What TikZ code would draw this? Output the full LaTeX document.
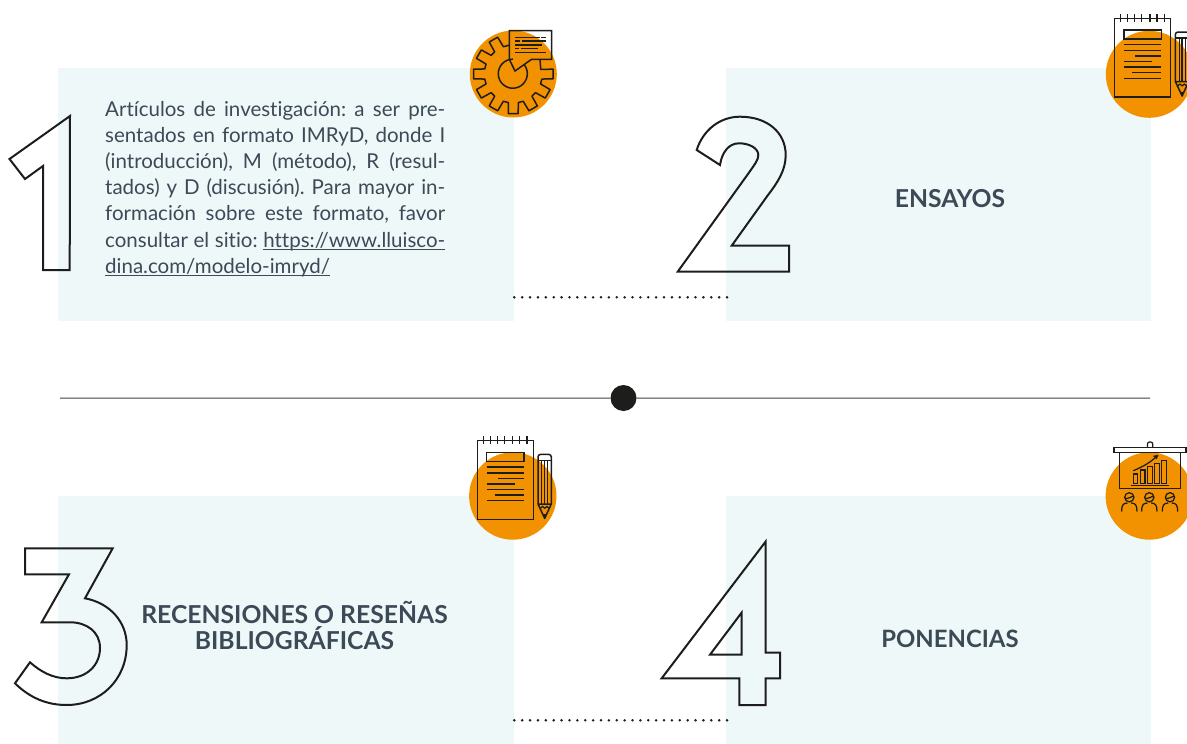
\documentclass[tikz,border=0pt]{standalone}
\usepackage{fontspec}
\setmainfont[Ligatures=NoCommon]{Lato}
\definecolor{panelc}{HTML}{EEF8F8}
\definecolor{orangec}{HTML}{F39200}
\definecolor{inkc}{HTML}{1D1D1B}
\definecolor{textc}{HTML}{3C4A57}
\newlength\ulw
\newcommand\ulin[1]{\settowidth\ulw{#1}\rlap{\rule[-2.8pt]{\ulw}{1pt}}#1}
\newcommand\jline[1]{\hbox to 340pt{#1}}
\tikzset{
  x=1pt,y=-1pt,
  panel/.style={fill=panelc,draw=none},
  badge/.style={fill=orangec,draw=none},
  digit/.style={draw=inkc,line width=2pt,line join=miter},
  icon/.style={draw=inkc,line width=1.5pt},
  thinicon/.style={draw=inkc,line width=1.25pt},
  dotline/.style={draw=inkc,line width=2.8pt,line cap=round,dash pattern=on 0pt off 7.88pt},
  heading/.style={text=textc,font=\bfseries\fontsize{24.7}{25.6}\selectfont,align=center,inner sep=0pt},
  body/.style={text=textc,font=\frenchspacing\fontsize{20.5}{26.2}\selectfont,align=left,inner sep=0pt,anchor=north west},
  notepadicon/.pic={
    \draw[icon] (0,0) rectangle (56,78.7);
    \foreach \tx in {6,13,20,27,35.3,42.3,49.7}{\draw[thinicon] (\tx,-4.3) -- (\tx,3.7);}
    \draw[icon] (9.3,11.7) rectangle (46.7,20.7);
    \draw[icon] (9.7,26.3) -- (46.3,26.3);
    \draw[icon] (9.7,32.3) -- (46.3,32.3);
    \draw[icon] (20.7,37.7) -- (46.3,37.7);
    \draw[icon] (9.7,43.3) -- (37.3,43.3);
    \draw[icon] (9.7,48.7) -- (46.3,48.7);
    \draw[icon] (17.3,54.3) -- (46.3,54.3);
    \draw[icon] (9.7,60) -- (46.3,60);
    \draw[icon,rounded corners=2.5pt] (60.7,63.3) -- (60.7,13.7) -- (74,13.7) -- (74,63.3);
    \draw[thinicon] (60.7,19.7) -- (74,19.7);
    \draw[thinicon] (64.5,19.7) -- (64.5,63.3);
    \draw[thinicon] (67.4,19.7) -- (67.4,63.3);
    \draw[thinicon] (70.5,19.7) -- (70.5,63.3);
    \draw[icon,line join=round] (60.7,63.3) -- (67.4,77.7) -- (74,63.3) -- cycle;
    \draw[thinicon] (63,67.5) -- (65.2,65.8) -- (67.4,67.5) -- (69.6,65.8) -- (71.8,67.5);
    \fill[inkc] (65.6,73.5) -- (67.4,77.7) -- (69.2,73.5) -- cycle;
  },
  viewerpic/.pic={
    \draw[thinicon] (-1.8,5.7) .. controls (-6.2,5.7) and (-7.7,8) .. (-7.7,14.2);
    \draw[thinicon] (1.8,5.7) .. controls (6.2,5.7) and (7.7,8) .. (7.7,14.2);
    \draw[thinicon] (0,0) circle (4.6);
    \draw[thinicon] (-4.4,1) .. controls (-2,2.2) and (2,-1) .. (4.3,-1);
  }
}
\begin{document}
\begin{tikzpicture}
\useasboundingbox (0,0) rectangle (1187,744);
% panels
\fill[panel] (58,68) rectangle (514,321);
\fill[panel] (726,68) rectangle (1151,321);
\fill[panel] (58,496) rectangle (514,744);
\fill[panel] (726,496) rectangle (1151,744);
% badges
\fill[badge] (513.3,74) circle (43.5);
\fill[badge] (1149.3,74.3) circle (43.5);
\fill[badge] (512.8,496) circle (43.7);
\fill[badge] (1149.3,496) circle (43.7);
% digits
\draw[digit] (70,116) -- (9.5,159) -- (25,179) -- (43,166) -- (43,270) -- (69.7,270) -- cycle;
\draw[digit] (696.7,150) .. controls (703,130) and (720,116.7) .. (740,116.7)
  .. controls (768,116.7) and (785.7,133) .. (785.7,155)
  .. controls (785.7,170) and (778,182) .. (768,195)
  -- (731.7,245.7) -- (789,245.7) -- (789,271.7) -- (677.7,271.7) -- (748,174)
  .. controls (755,164) and (758.3,160) .. (758.3,155)
  .. controls (758.3,148) and (749,143.3) .. (739,143.3)
  .. controls (729,143.3) and (722,152) .. (720,165) -- cycle;
\draw[digit] (25,548.3) -- (112.7,548.3) -- (85,598.3)
  .. controls (110,603) and (126.7,622) .. (126.7,645)
  .. controls (126.7,680) and (100,705) .. (66.7,705)
  .. controls (47,705) and (30,698) .. (15,683.3)
  -- (30,662.3) .. controls (41,672) and (53,678.3) .. (66.7,678.3)
  .. controls (87,678.3) and (100,665) .. (100,648)
  .. controls (100,632) and (87,622.3) .. (70,622.3)
  -- (41.7,622.3) -- (69,574.3) -- (25,574.3) -- cycle;
\draw[digit] (765.7,541.5) -- (765.7,652.7) -- (780,652.7) -- (780,678.3) -- (765.7,678.3)
  -- (765.7,705) -- (739.3,705) -- (739.3,678.3) -- (661.7,678.3) -- cycle;
\draw[digit] (741.7,612.5) -- (741.7,654.7) -- (710,654.7) -- cycle;
% divider
\coordinate (divl) at (60,398.2);
\coordinate (divr) at (1150,398.2);
\node[circle,fill=inkc,draw=none,minimum size=26pt,inner sep=0pt] (hub) at (623.5,398) {};
\draw[draw=inkc!85,line width=1pt] (divl) -- (hub) -- (divr);
% dotted
\coordinate (dota) at (514.3,297.3);
\coordinate (dotb) at (727.4,297.3);
\coordinate (dotc) at (514.3,720.3);
\coordinate (dotd) at (727.4,720.3);
\draw[dotline] (dota) -- (dotb);
\draw[dotline] (dotc) -- (dotd);
% texts
\node[body] (bodytext) at (105,100.8) {%
\jline{Artículos de investigación: a ser pre-}\\
\jline{sentados en formato IMRyD, donde I}\\
\jline{(introducción), M (método), R (resul-}\\
\jline{tados) y D (discusión). Para mayor in-}\\
\jline{formación sobre este formato, favor}\\
\jline{consultar el sitio: \ulin{https://www.lluisco-}}\\
\ulin{dina.com/modelo-imryd/}};
\node[heading] (ensayos) at (950,199) {ENSAYOS};
\node[heading] (recens) at (294.5,625.5) {RECENSIONES O RESEÑAS\\BIBLIOGRÁFICAS};
\node[heading,font=\bfseries\fontsize{23.9}{25.6}\selectfont] (ponen) at (950,638.5) {PONENCIAS};
% gear icon
\begin{scope}[shift={(513.3,74)}]
  \draw[icon,line join=round]
    (26.7,-14.7) -- (27.5,-4.5)
    \foreach \a in {0,30,60,90,120,150,180,210,240}{
      -- (\a-7:40) -- (\a+7:40) -- (\a+10:29) -- (\a+20:29)
    } -- (-4,-29);
  \draw[icon] plot[domain=270:-36,samples=50] ({-0.5+14.5*cos(\x)},{-0.3+14.5*sin(\x)});
  \draw[icon,line join=miter] (-4,-43.3) -- (38.4,-43.3) -- (38.4,-14.7) -- (18.3,-14.7) -- (1.7,-3) -- (-4,-14.7) -- cycle;
  \draw[thinicon] (1.7,-36.7) -- (26.7,-36.7) (27.7,-36.7) -- (32.7,-36.7);
  \draw[thinicon] (1.7,-33) -- (6.7,-33) (8.3,-33) -- (32.7,-33);
  \draw[thinicon] (1.7,-29) -- (28.3,-29);
  \draw[thinicon] (1.7,-25.3) -- (6,-25.3) (8,-25.3) -- (25,-25.3);
  \draw[thinicon] (1.7,-21.3) -- (32.7,-21.3);
\end{scope}
% notepads
\pic at (1114.7,18.3) {notepadicon};
\pic at (477.3,440.7) {notepadicon};
% presentation icon
\begin{scope}[shift={(1090,430)}]
  \draw[icon] (24,17.7) rectangle (96,22.7);
  \draw[thinicon,rounded corners=2pt] (57.5,17.7) -- (57.5,12) -- (62.7,12) -- (62.7,17.7);
  \draw[icon] (29.3,22.7) rectangle (90.7,58.3);
  \draw[draw=inkc,line width=1.6pt] (40.7,55.5) -- (79.3,55.5);
  \draw[thinicon] (43.3,44) rectangle (47.7,53.3);
  \draw[thinicon] (50.3,40) rectangle (55,53.3);
  \draw[thinicon] (57.3,36.7) rectangle (62.3,53.3);
  \draw[thinicon] (64.3,33.7) rectangle (69.3,53.3);
  \draw[thinicon] (71.7,30.7) rectangle (76.7,53.3);
  \draw[thinicon] (43.3,40.7) .. controls (52,37) and (60,33) .. (67,26);
  \fill[inkc] (68.5,24.8) -- (63,25.8) -- (66.6,29.3) -- cycle;
\end{scope}
\pic at (1129.3,497.3) {viewerpic};
\pic at (1149.3,497.3) {viewerpic};
\pic at (1170,497.3) {viewerpic};
\end{tikzpicture}
\end{document}
